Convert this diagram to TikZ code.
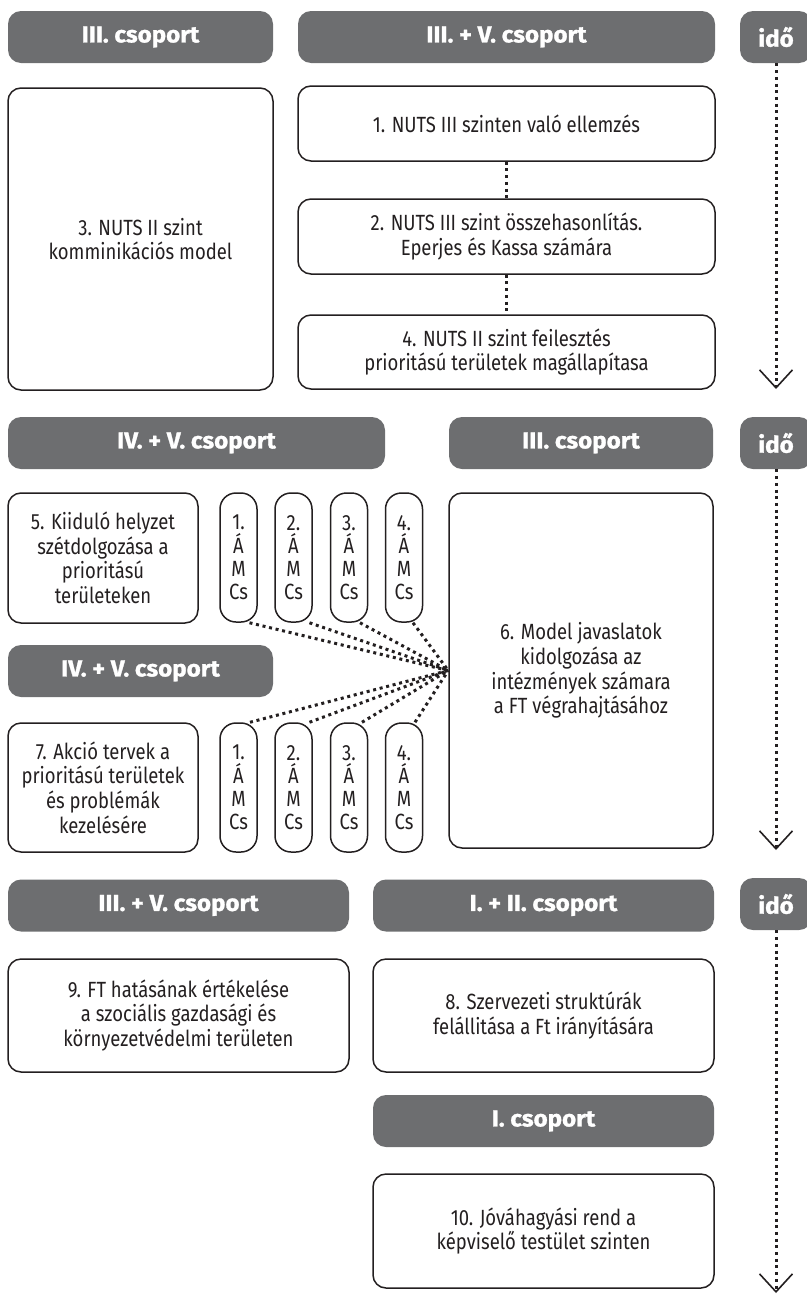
\documentclass[tikz,border=0pt]{standalone}
\usepackage{fontspec}
\setmainfont{Fira Sans}[FakeStretch=0.84]
\newfontfamily\hdrfont{Fira Sans}[FakeStretch=1.05, BoldFeatures={FakeBold=1.2}]
\usetikzlibrary{arrows.meta}

\begin{document}
\begin{tikzpicture}[x=0.5pt, y=-0.5pt]
        % Define colors
        \definecolor{hdrgray}{RGB}{109,110,112}
        \definecolor{inkdark}{RGB}{35,31,32}
        \tikzset{
          hdr/.style={fill=hdrgray, rounded corners=6.5pt, text=white, inner sep=0pt,
            font=\hdrfont\bfseries\fontsize{11.5}{13}\selectfont, minimum height=26pt},
          stepbox/.style={draw=inkdark, line width=0.75pt, rounded corners=6.5pt, align=center,
            text=inkdark, inner sep=0pt, font=\fontsize{11}{12.3}\selectfont},
          amcbox/.style={stepbox, rounded corners=8pt, minimum width=18.5pt, minimum height=64.5pt,
            font=\fontsize{11}{11.6}\selectfont},
          dotline/.style={inkdark, line width=1.5pt, dash pattern=on 1.5pt off 1.85pt},
          timeline/.style={dotline, -{Straight Barb[length=9pt, width=16.5pt, line width=0.8pt]}}
        }
        \useasboundingbox (0,0) rectangle (807,1296);

        % Row 1 - headers
        \node[hdr, minimum width=132.5pt] (h1a) at (140.5,37) {III. csoport};
        \node[hdr, minimum width=208.5pt] (h1b) at (506.5,37) {III. + V. csoport};
        \node[hdr, minimum width=36pt] (t1) at (776,37) {idő};

        % Row 1 - steps
        \node[stepbox, minimum width=132.5pt, minimum height=151pt] (b3) at (140.5,239) {3. NUTS II szint\\komminikációs model};
        \node[stepbox, minimum width=208.5pt, minimum height=37.5pt] (b1) at (506.5,123.5) {1. NUTS III szinten való ellemzés};
        \node[stepbox, minimum width=208.5pt, minimum height=37.5pt] (b2) at (506.5,236.5) {2. NUTS III szint összehasonlítás.\\Eperjes és Kassa számára};
        \node[stepbox, minimum width=208.5pt, minimum height=37pt] (b4) at (506.5,352) {4. NUTS II szint feilesztés\\prioritású területek magállapítasa};
        \draw[dotline] (b1.south) -- (b2.north);
        \draw[dotline] (b2.south) -- (b4.north);

        % Row 1 - time
        \coordinate (tip1) at (776,389);
        \draw[timeline] (t1.south) -- (tip1);

        % Row 2 - headers
        \node[hdr, minimum width=188.5pt] (h2a) at (196.5,443) {IV. + V. csoport};
        \node[hdr, minimum width=132pt] (h2b) at (581,443) {III. csoport};
        \node[hdr, minimum width=36pt] (t2) at (776,443) {idő};

        % Row 2 - steps
        \node[stepbox, minimum width=95pt, minimum height=65pt] (b5) at (103,558) {5. Kiiduló helyzet\\szétdolgozása a\\prioritású\\területeken};
        \node[amcbox] (a1) at (238.5,557.5) {1.\\Á\\M\\Cs};
        \node[amcbox] (a2) at (293.5,557.5) {2.\\Á\\M\\Cs};
        \node[amcbox] (a3) at (349,557.5) {3.\\Á\\M\\Cs};
        \node[amcbox] (a4) at (404,557.5) {4.\\Á\\M\\Cs};
        \node[stepbox, minimum width=132pt, minimum height=177.5pt] (b6) at (581,670.5) {6. Model javaslatok\\kidolgozása az\\intézmények számara\\a FT végrahajtásához};
        \node[hdr, minimum width=132.5pt] (h2c) at (140.5,671) {IV. + V. csoport};
        \node[stepbox, minimum width=95pt, minimum height=64.5pt] (b7) at (103,787.5) {7. Akció tervek a\\prioritású területek\\és problémák\\kezelésére};
        \node[amcbox] (c1) at (238.5,787.5) {1.\\Á\\M\\Cs};
        \node[amcbox] (c2) at (293.5,787.5) {2.\\Á\\M\\Cs};
        \node[amcbox] (c3) at (349,787.5) {3.\\Á\\M\\Cs};
        \node[amcbox] (c4) at (404,787.5) {4.\\Á\\M\\Cs};

        % Fan into step 6
        \draw[dotline] ([xshift=5.5pt]a1.south) -- (b6.west);
        \draw[dotline] ([xshift=8pt]a2.south) -- (b6.west);
        \draw[dotline] ([xshift=5.5pt]a3.south) -- (b6.west);
        \draw[dotline] ([xshift=4.5pt]a4.south) -- (b6.west);
        \draw[dotline] ([xshift=5.75pt]c1.north) -- (b6.west);
        \draw[dotline] ([xshift=8pt]c2.north) -- (b6.west);
        \draw[dotline] ([xshift=6.5pt]c3.north) -- (b6.west);
        \draw[dotline] ([xshift=5.5pt]c4.north) -- (b6.west);

        % Row 2 - time
        \coordinate (tip2) at (776,850);
        \draw[timeline] (t2.south) -- (tip2);

        % Row 3 - headers
        \node[hdr, minimum width=170.5pt] (h3a) at (178.5,905.5) {III. + V. csoport};
        \node[hdr, minimum width=170.5pt] (h3b) at (543.5,905.5) {I. + II. csoport};
        \node[hdr, minimum width=36pt] (t3) at (776,904) {idő};

        % Row 3 - steps
        \node[stepbox, minimum width=170.5pt, minimum height=56.5pt] (b9) at (178.5,1015.5) {9. FT hatásának értékelése\\a szociális gazdasági és\\környezetvédelmi területen};
        \node[stepbox, minimum width=170.5pt, minimum height=56.5pt] (b8) at (543.5,1015.5) {8. Szervezeti struktúrák\\felállitása a Ft irányítására};
        \node[hdr, minimum width=170.5pt] (h3c) at (543.5,1121) {I. csoport};
        \node[stepbox, minimum width=170.5pt, minimum height=57pt] (b10) at (543.5,1231) {10. Jóváhagyási rend a\\képviselő testület szinten};

        % Row 3 - time
        \coordinate (tip3) at (776,1293);
        \draw[timeline] (t3.south) -- (tip3);
\end{tikzpicture}
\end{document}
